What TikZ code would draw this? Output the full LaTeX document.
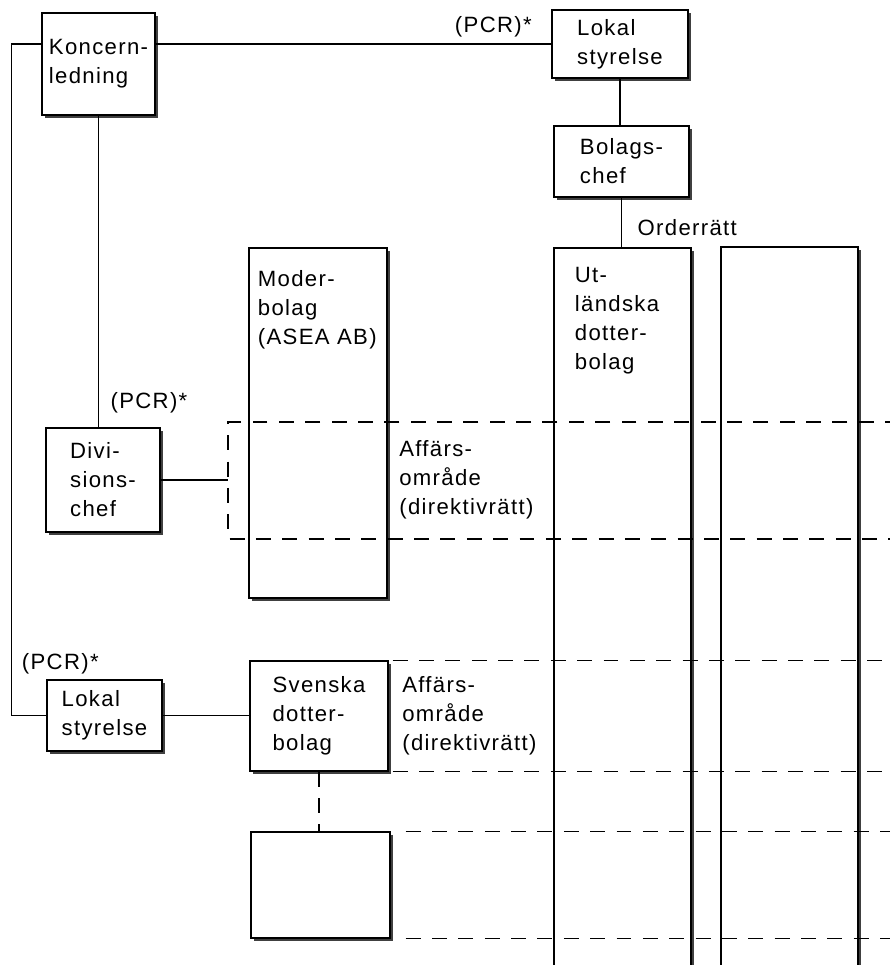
\documentclass[tikz,border=0pt]{standalone}
\usepackage{fontspec}
\setmainfont{Liberation Sans}[LetterSpace=6]
\usetikzlibrary{shadows}

\begin{document}
\begin{tikzpicture}[
    x = 0.02cm, y = -0.02cm, %
    font = \fontsize{12.6}{16.5}\selectfont, %
    line width = 0.7pt,
    box/.style = {draw, fill = white, line width = 0.8pt, align = left, inner sep = 0pt,
      drop shadow = {shadow xshift = 1.6pt, shadow yshift = -1.6pt, fill = black!75, opacity = 1}},
    txt/.style = {align = left, inner sep = 0pt},
    dline/.style = {dash pattern = on 8.5pt off 6.5pt}
    ]

    \useasboundingbox (0,0) rectangle (890,965);
    \clip (0,0) rectangle (890,965);

    \node[box, minimum width = 2.26cm, minimum height = 2.04cm] (kl)  at (98.5,64)    {Koncern-\\ledning};
    \node[box, minimum width = 2.72cm, minimum height = 1.36cm] (lsu) at (620,44)     {Lokal\\styrelse};
    \node[box, minimum width = 2.70cm, minimum height = 1.42cm] (bc)  at (621.5,161.5) {Bolags-\\chef};
    \node[box, minimum width = 2.74cm, minimum height = 15.04cm] (ud) at (622.5,624)  {};
    \node[box, minimum width = 2.74cm, minimum height = 15.06cm] (ub) at (789.5,623.5) {};
    \node[box, minimum width = 2.76cm, minimum height = 7.00cm] (mb)  at (318,423)    {};
    \node[box, minimum width = 2.28cm, minimum height = 2.08cm] (dc)  at (103,480)    {Divi-\\sions-\\chef};
    \node[box, minimum width = 2.30cm, minimum height = 1.42cm] (lsd) at (104.5,715.5) {Lokal\\styrelse};
    \node[box, minimum width = 2.76cm, minimum height = 2.20cm] (sd)  at (319,716)    {Svenska\\dotter-\\bolag};
    \node[box, minimum width = 2.78cm, minimum height = 2.12cm] (tom) at (320.5,885)  {};

    \node[txt, anchor = north west] (mbtext) at ([xshift = 0.18cm, yshift = -0.46cm]mb.north west) {Moder-\\bolag\\(ASEA AB)};
    \node[txt, anchor = north west] (udtext) at ([xshift = 0.42cm, yshift = -0.38cm]ud.north west) {Ut-\\ländska\\dotter-\\bolag};

    \node[txt, anchor = base east] (pcr1) at ([xshift = -0.38cm, yshift = 0.24cm]lsu.west) {(PCR)*};
    \node[txt, anchor = base west] (pcr2) at ([xshift = 0.14cm, yshift = 0.38cm]dc.north) {(PCR)*};
    \node[txt, anchor = base west] (pcr3) at ([xshift = -0.5cm, yshift = 0.2cm]lsd.north west) {(PCR)*};
    \node[txt, anchor = base west] (order) at ([xshift = 0.29cm, yshift = 0.24cm]ud.north) {Orderrätt};

    \node[txt, anchor = west, xshift = 0.22cm] (afm) at (mb.east |- dc.east) {Affärs-\\område\\(direktivrätt)};
    \node[txt, anchor = west, xshift = 0.26cm] (afs) at (sd.east) {Affärs-\\område\\(direktivrätt)};

    \draw (kl.east |- lsu.west) -- (lsu.west);
    \draw (kl.west |- lsu.west) -- ++(-30,0) |- (lsd.west);
    \draw (kl.south) -- (kl.south |- dc.north);
    \draw (lsu.south) -- (lsu.south |- bc.north);
    \draw (bc.south) -- (bc.south |- ud.north);
    \draw (lsd.east) -- (lsd.east -| sd.west);
    \draw[dline] (sd.south) -- (sd.south |- tom.north);

    % affarsomrade
    \coordinate (fr1) at (228,422);
    \coordinate (fr2) at (228,539);
    \draw (dc.east) -- (dc.east -| fr1);
    \draw[dline] (900,422) -- (fr1) -- (fr2) -- (900,539);
    \draw[dline] ([xshift = 0.08cm]sd.north east) -- ++(520,0);
    \draw[dline] ([xshift = 0.08cm]sd.south east) -- ++(520,0);
    \draw[dline] ([xshift = 0.3cm]tom.north east) -- ++(520,0);
    \draw[dline] ([xshift = 0.3cm]tom.south east) -- ++(520,0);

\end{tikzpicture}
\end{document}
